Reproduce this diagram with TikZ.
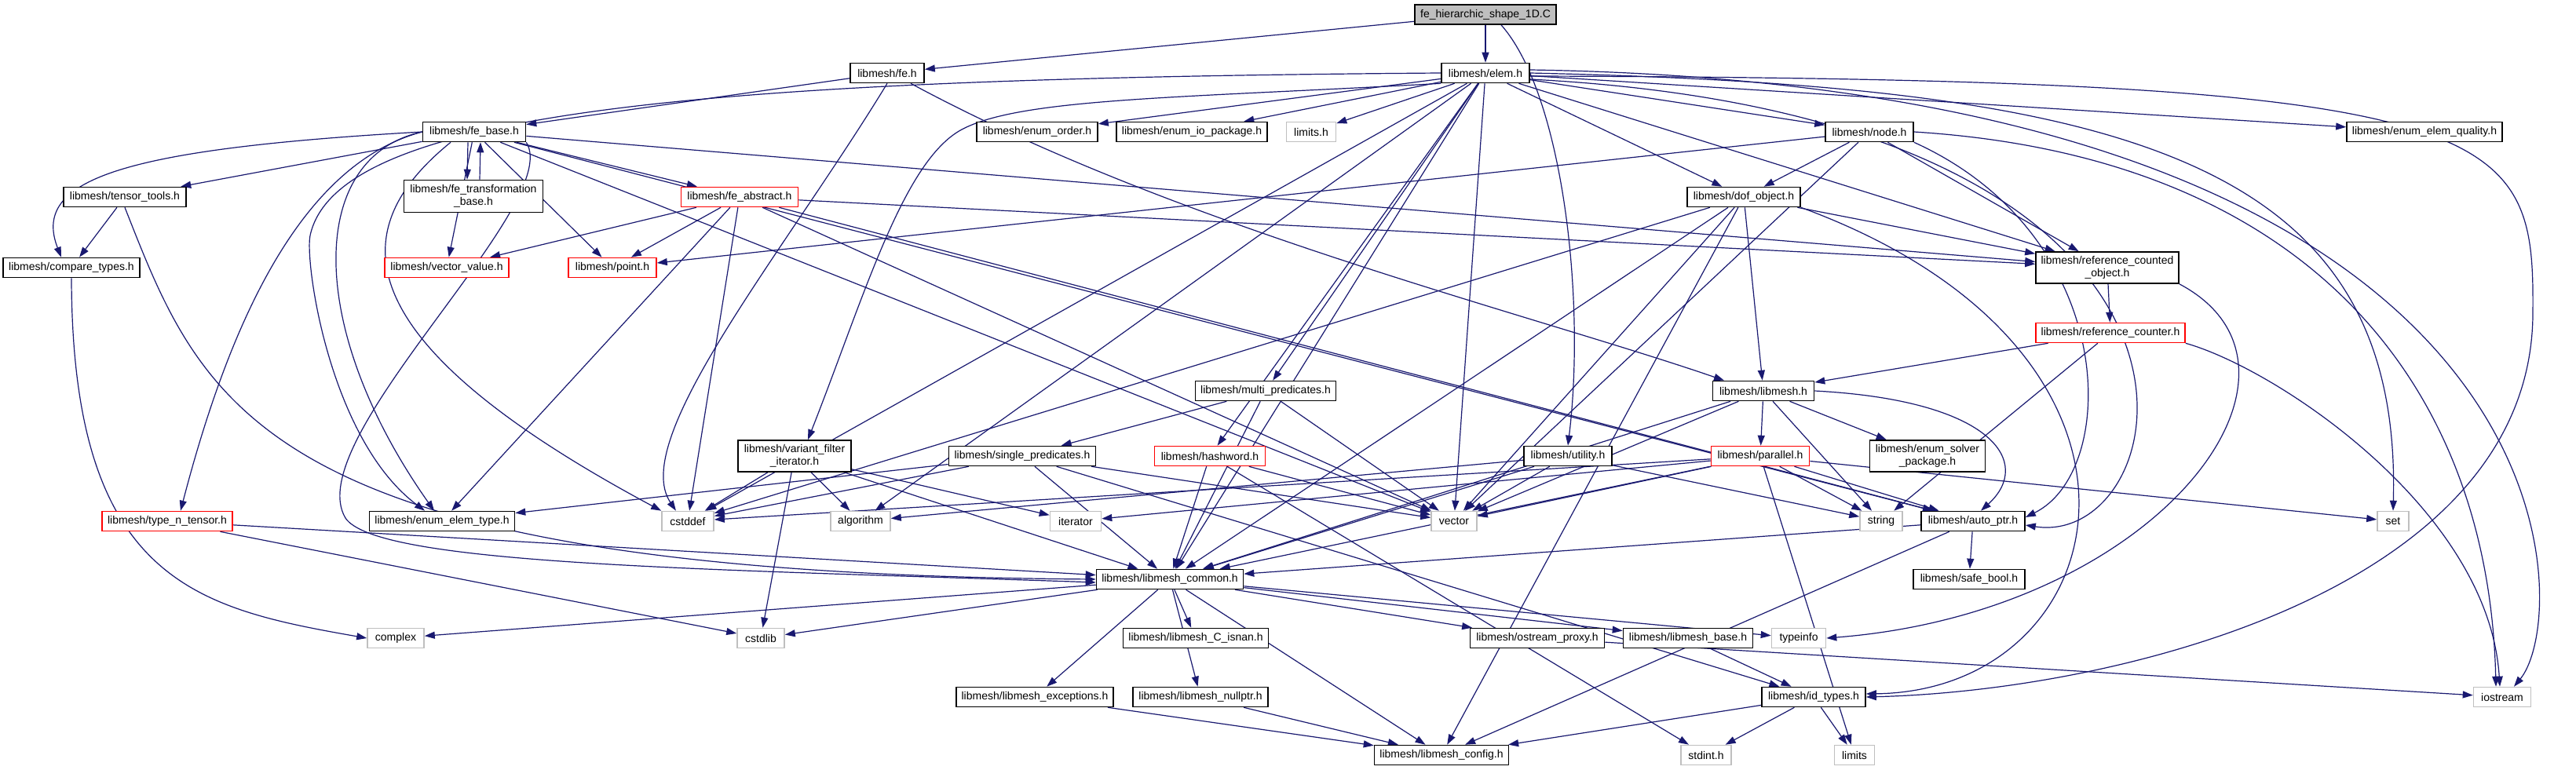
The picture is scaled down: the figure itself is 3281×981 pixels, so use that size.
\documentclass[tikz,border=0pt]{standalone}
\usepackage{fontspec}
\setmainfont{Liberation Sans}
\usetikzlibrary{arrows.meta}
\definecolor{edgeblue}{HTML}{191970}
\definecolor{extgray}{HTML}{BFBFBF}
\pgfdeclarelayer{bgl}
\pgfdeclarelayer{edgel}
\pgfsetlayers{bgl,edgel,main}
\tikzset{
  box/.style={draw=black, line width=1.6pt, fill=white, minimum height=25pt, inner sep=2pt,
    font=\fontsize{14}{16}\selectfont, align=center},
  redbox/.style={box, draw=red},
  sysbox/.style={box, draw=extgray},
  rootbox/.style={box, fill=extgray},
  dep/.style={draw=edgeblue, line width=1.2pt, -{Triangle[length=13pt,width=9pt]}},
}
\begin{document}
\begin{tikzpicture}[x=1pt,y=1pt]
\useasboundingbox (0,0) rectangle (3281,-981);
\begin{pgfonlayer}{bgl}
\fill[white] (0,0) rectangle (3281,-981);
\end{pgfonlayer}
% nodes
\node[rootbox, minimum width=180pt] (root) at (1892,-18.5) {fe\_hierarchic\_shape\_1D.C};
\node[box, minimum width=112pt] (elem) at (1892,-93) {libmesh/elem.h};
\node[box, minimum width=94pt] (fe) at (1130,-93) {libmesh/fe.h};
\node[box, minimum width=131pt] (febase) at (604,-168) {libmesh/fe\_base.h};
\node[box, minimum width=154pt] (enumorder) at (1321,-168) {libmesh/enum\_order.h};
\node[box, minimum width=192pt] (enumio) at (1518,-168) {libmesh/enum\_io\_package.h};
\node[sysbox, minimum width=63pt] (limitsh) at (1670,-168) {limits.h};
\node[box, minimum width=112pt] (node) at (2381,-168) {libmesh/node.h};
\node[box, minimum width=198pt] (quality) at (3088,-168) {libmesh/enum\_elem\_quality.h};
\node[box, minimum width=156pt] (tensor) at (159,-251) {libmesh/tensor\_tools.h};
\node[box, minimum width=177pt, minimum height=41pt] (fetrans) at (603,-250) {libmesh/fe\_transformation\\\_base.h};
\node[redbox, minimum width=149pt] (feabs) at (942,-251) {libmesh/fe\_abstract.h};
\node[box, minimum width=144pt] (dof) at (2221,-251) {libmesh/dof\_object.h};
\node[box, minimum width=174pt] (compare) at (91,-341) {libmesh/compare\_types.h};
\node[redbox, minimum width=158pt] (vecval) at (569,-341) {libmesh/vector\_value.h};
\node[redbox, minimum width=112pt] (point) at (780,-341) {libmesh/point.h};
\node[box, minimum width=182pt, minimum height=40pt] (refobj) at (2684,-341) {libmesh/reference\_counted\\\_object.h};
\node[redbox, minimum width=190pt] (refcounter) at (2688,-424) {libmesh/reference\_counter.h};
\node[box, minimum width=179pt] (multi) at (1612,-498) {libmesh/multi\_predicates.h};
\node[box, minimum width=129pt] (libmesh) at (2246,-498) {libmesh/libmesh.h};
\node[box, minimum width=144pt, minimum height=40pt] (variant) at (1012,-581) {libmesh/variant\_filter\\\_iterator.h};
\node[box, minimum width=187pt] (single) at (1302,-581) {libmesh/single\_predicates.h};
\node[redbox, minimum width=141pt] (hashword) at (1541,-581) {libmesh/hashword.h};
\node[box, minimum width=112pt] (utility) at (1997,-581) {libmesh/utility.h};
\node[redbox, minimum width=125pt] (parallel) at (2242,-581) {libmesh/parallel.h};
\node[box, minimum width=147pt, minimum height=40pt] (enumsolver) at (2455,-581) {libmesh/enum\_solver\\\_package.h};
\node[redbox, minimum width=166pt] (typen) at (213,-664) {libmesh/type\_n\_tensor.h};
\node[box, minimum width=185pt] (enumtype) at (563,-664) {libmesh/enum\_elem\_type.h};
\node[sysbox, minimum width=66pt] (cstddef) at (876,-664) {cstddef};
\node[sysbox, minimum width=76pt] (algorithm) at (1096,-664) {algorithm};
\node[sysbox, minimum width=65pt] (iterator) at (1370,-664) {iterator};
\node[sysbox, minimum width=58pt] (vector) at (1852,-664) {vector};
\node[sysbox, minimum width=54pt] (string) at (2396,-664) {string};
\node[box, minimum width=132pt] (autoptr) at (2513,-664) {libmesh/auto\_ptr.h};
\node[sysbox, minimum width=40pt] (set) at (3048,-664) {set};
\node[box, minimum width=187pt] (common) at (1490,-738) {libmesh/libmesh\_common.h};
\node[box, minimum width=142pt] (safebool) at (2508,-738) {libmesh/safe\_bool.h};
\node[sysbox, minimum width=72pt] (complex) at (504,-813) {complex};
\node[sysbox, minimum width=60pt] (cstdlib) at (969,-813) {cstdlib};
\node[box, minimum width=185pt] (isnan) at (1523,-813) {libmesh/libmesh\_C\_isnan.h};
\node[box, minimum width=171pt] (ostream) at (1958,-813) {libmesh/ostream\_proxy.h};
\node[box, minimum width=165pt] (libbase) at (2150,-813) {libmesh/libmesh\_base.h};
\node[sysbox, minimum width=69pt] (typeinfo) at (2291,-813) {typeinfo};
\node[box, minimum width=200pt] (exceptions) at (1318,-888) {libmesh/libmesh\_exceptions.h};
\node[box, minimum width=172pt] (nullptr) at (1529,-888) {libmesh/libmesh\_nullptr.h};
\node[box, minimum width=132pt] (idtypes) at (2310,-888) {libmesh/id\_types.h};
\node[sysbox, minimum width=73pt] (iostream) at (3187,-888) {iostream};
\node[box, minimum width=171pt] (config) at (1836,-962) {libmesh/libmesh\_config.h};
\node[sysbox, minimum width=64pt] (stdint) at (2173,-962) {stdint.h};
\node[sysbox, minimum width=51pt] (limits) at (2362,-962) {limits};
% edges
\begin{pgfonlayer}{edgel}
\foreach \s/\t in {root/elem, root/fe, fe/febase,
  febase/tensor, febase/vecval, febase/point, febase/feabs, febase/vector, febase/refobj, febase/autoptr,
  tensor/compare, typen/common, typen/cstdlib,
  feabs/vecval, feabs/point, feabs/cstddef, feabs/enumtype, feabs/vector, feabs/refobj, feabs/autoptr,
  elem/enumorder, elem/enumio, elem/limitsh, elem/node, elem/dof, elem/quality, elem/refobj, elem/multi,
  elem/hashword, elem/common, elem/vector, elem/algorithm, elem/cstddef,
  node/point, node/dof, node/refobj, node/vector,
  dof/refobj, dof/libmesh, dof/cstddef, dof/vector, dof/common, dof/config,
  refobj/refcounter, refcounter/libmesh, refcounter/string,
  multi/single, multi/common, multi/vector,
  single/enumtype, single/cstddef, single/vector, single/common, single/idtypes,
  variant/cstddef, variant/algorithm, variant/iterator, variant/cstdlib, variant/common,
  hashword/common, hashword/stdint, hashword/vector,
  utility/vector, utility/string, utility/common, utility/algorithm,
  parallel/vector, parallel/cstddef, parallel/iterator, parallel/string, parallel/autoptr, parallel/set,
  parallel/limits, parallel/common,
  libmesh/common, libmesh/parallel, libmesh/enumsolver, libmesh/vector, libmesh/string,
  autoptr/safebool, autoptr/common, autoptr/config,
  common/complex, common/cstdlib, common/isnan, common/exceptions, common/nullptr, common/ostream,
  common/libbase, common/typeinfo, common/config,
  exceptions/config, nullptr/config, libbase/idtypes, idtypes/stdint, idtypes/limits, idtypes/config,
  ostream/iostream}
  \draw[dep] (\s) -- (\t);
% curved edges
\draw[dep] ([xshift=20pt]root.south) .. controls (1990,-120) and (2020,-380) .. (utility.north);
\draw[dep] (fe.south) .. controls (1000,-320) and (800,-560) .. ([xshift=-15pt]cstddef.north);
\draw[dep] ([xshift=30pt]fe.south) .. controls (1500,-290) and (1950,-400) .. ([xshift=-50pt]libmesh.north);
\draw[dep] (elem.south west) .. controls (1500,-125) and (1300,-125) .. (1225,-165) .. controls (1150,-205) and (1100,-380) .. ([xshift=17pt]variant.north);
\draw[dep] ([xshift=-8pt]febase.south) -- ([xshift=-8pt]fetrans.north);
\draw[dep] ([xshift=8pt]fetrans.north) -- ([xshift=8pt]febase.south);
\draw[dep] (febase.west) .. controls (150,-190) and (40,-230) .. ([xshift=-13pt]compare.north);
\draw[dep] (compare.south) .. controls (92,-740) and (250,-775) .. (complex.west);
\draw[dep] (tensor.south) .. controls (260,-520) and (330,-730) .. (common.west);
\draw[dep] (febase.south east) .. controls (720,-260) and (380,-560) .. (440,-660) .. controls (480,-720) and (900,-725) .. ([yshift=-4pt]common.west);
\draw[dep] ([xshift=-30pt]febase.south) .. controls (440,-290) and (430,-430) .. (cstddef.north west);
\draw[dep] (febase.west) .. controls (390,-200) and (390,-420) .. ([xshift=-10pt]enumtype.north);
\draw[dep] (elem.west) .. controls (900,-100) and (430,-140) .. (395,-300) .. controls (388,-335) and (420,-560) .. ([xshift=-22pt]enumtype.north);
\draw[dep] (febase.west) .. controls (380,-210) and (290,-420) .. ([xshift=17pt]typen.north);
\draw[dep] (elem.east) .. controls (2700,-110) and (3060,-200) .. (set.north);
\draw[dep] ([yshift=4pt]elem.east) .. controls (3290,-110) and (3280,-780) .. ([xshift=15pt]iostream.north);
\draw[dep] ([yshift=-4pt]elem.east) .. controls (3200,-100) and (3228,-160) .. (3226,-400) .. controls (3224,-750) and (2700,-880) .. (idtypes.east);
\draw[dep] (node.east) .. controls (2950,-200) and (3170,-500) .. ([xshift=-8pt]iostream.north);
\draw[dep] (refcounter.south east) .. controls (2900,-470) and (3170,-650) .. ([xshift=-3pt]iostream.north);
\draw[dep] (refobj.south east) .. controls (2980,-470) and (2750,-780) .. (typeinfo.east);
\draw[dep] (libmesh.east) .. controls (2540,-510) and (2590,-590) .. ([xshift=10pt]autoptr.north);
\draw[dep] (dof.south east) .. controls (2800,-450) and (2700,-880) .. ([yshift=4pt]idtypes.east);
\draw[dep] (node.south east) .. controls (2700,-300) and (2700,-600) .. ([yshift=5pt]autoptr.east);
\draw[dep] ([yshift=-8pt]elem.east) .. controls (2900,-150) and (2780,-700) .. ([yshift=-5pt]autoptr.east);
\end{pgfonlayer}
\end{tikzpicture}
\end{document}
